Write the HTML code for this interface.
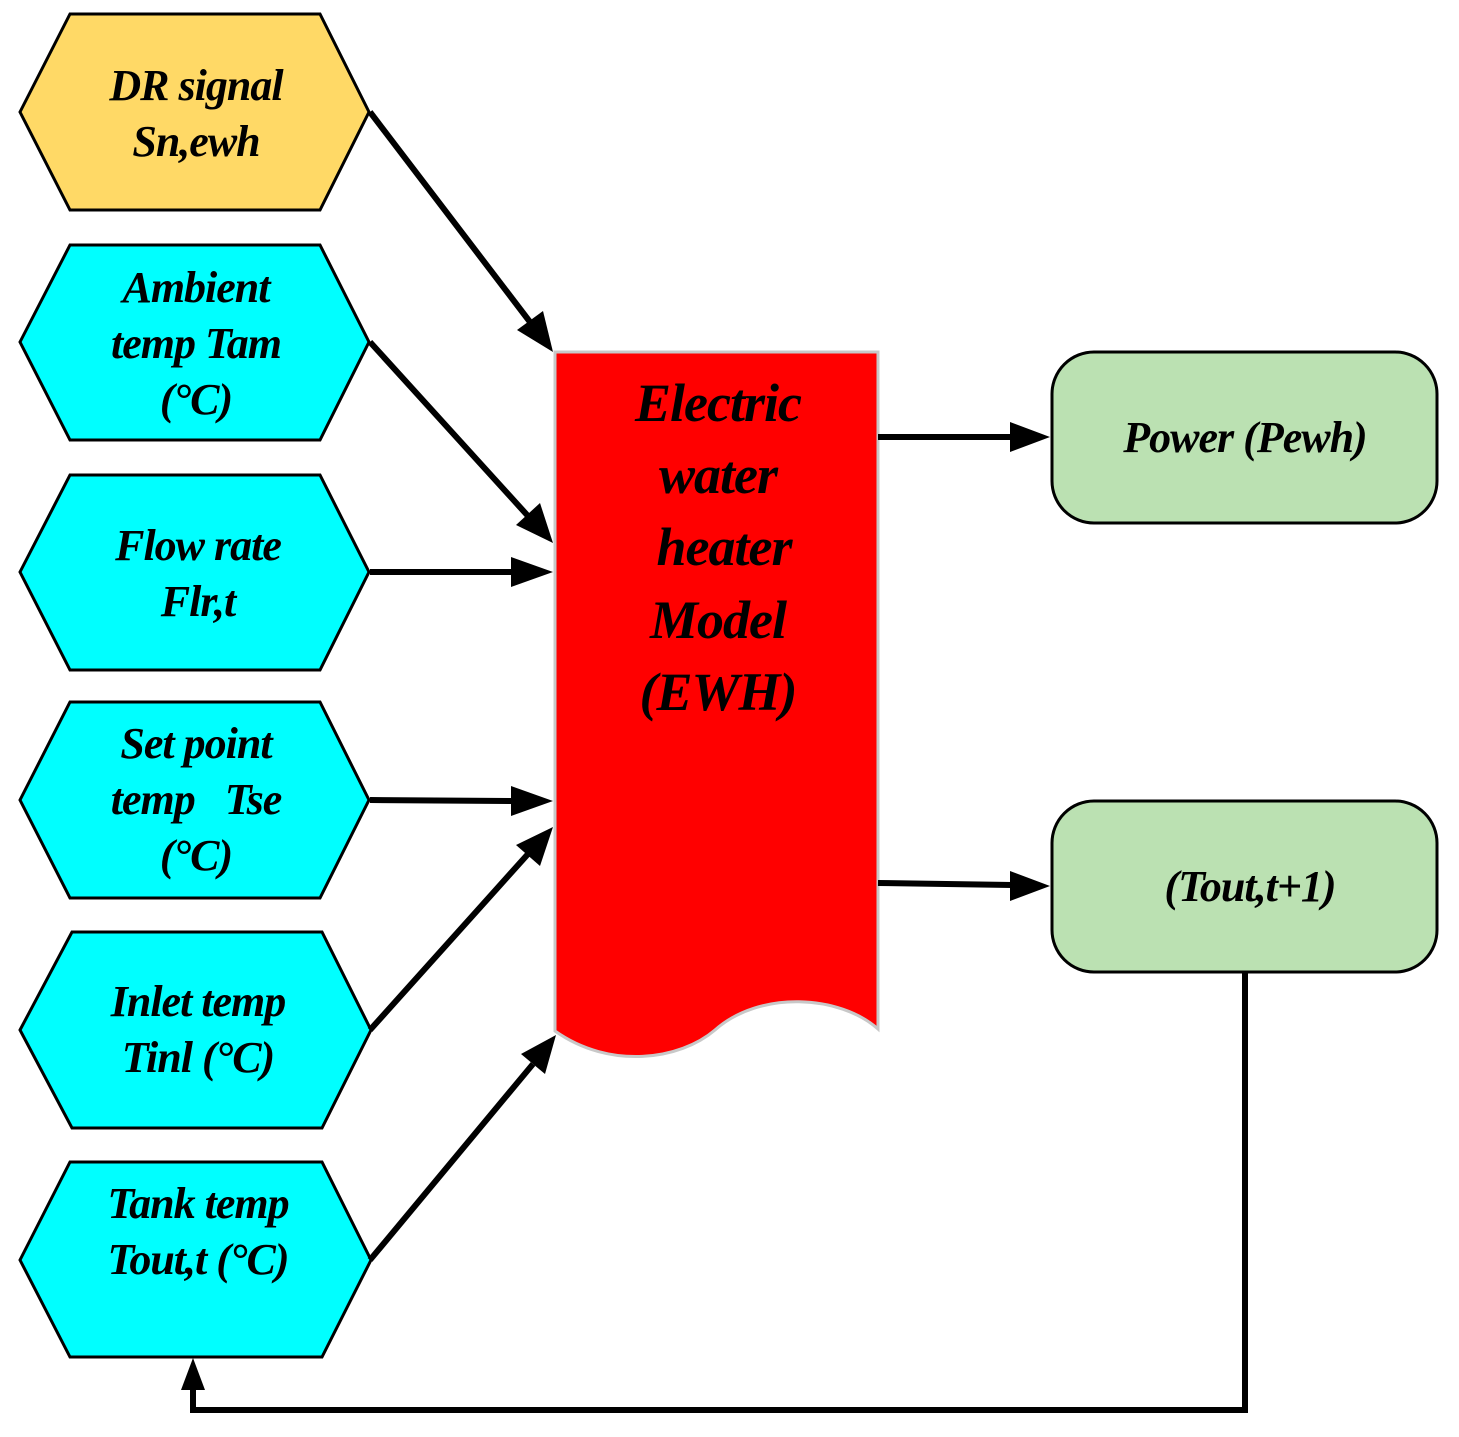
<!DOCTYPE html>
<html><head><meta charset="utf-8"><style>
html,body{margin:0;padding:0;background:#fff;}
svg text{font-family:"Liberation Serif",serif;font-weight:bold;font-style:italic;fill:#000;}
</style></head><body>
<svg width="1459" height="1432" viewBox="0 0 1459 1432" xmlns="http://www.w3.org/2000/svg">
<defs>
<marker id="a" markerWidth="12" markerHeight="10" refX="11" refY="5" orient="auto" markerUnits="userSpaceOnUse" viewBox="0 0 12 10">
</marker>
</defs>
<g stroke="#000" stroke-width="3">
<polygon points="20,112 70,14 320,14 369,112 320,210 70,210" fill="#ffd966"/>
<polygon points="20,342 70,245 320,245 369,342 320,440 70,440" fill="#00ffff"/>
<polygon points="20,572 70,475 320,475 369,572 320,670 70,670" fill="#00ffff"/>
<polygon points="20,800 70,702 320,702 369,800 320,898 70,898" fill="#00ffff"/>
<polygon points="20,1030 72,932 322,932 371,1030 322,1128 72,1128" fill="#00ffff"/>
<polygon points="20,1260 70,1162 322,1162 371,1260 322,1357 70,1357" fill="#00ffff"/>
<rect x="1052" y="352" width="385" height="171" rx="42" fill="#bbe1b2"/>
<rect x="1052" y="801" width="385" height="171" rx="42" fill="#bbe1b2"/>
</g>
<path d="M555,352 L878,352 L878,1029 C840,995 760,990 715,1030 C680,1060 610,1070 555,1031 Z" fill="#ff0000" stroke="#c8c8c8" stroke-width="3"/>
<g stroke="#000" stroke-width="6" fill="none">
<line x1="370" y1="112" x2="530" y2="322"/>
<line x1="370" y1="342" x2="528" y2="516"/>
<line x1="370" y1="572" x2="515" y2="572"/>
<line x1="370" y1="800" x2="515" y2="801"/>
<line x1="370" y1="1030" x2="528" y2="854"/>
<line x1="370" y1="1260" x2="533" y2="1064"/>
<line x1="878" y1="437" x2="1012" y2="437"/>
<line x1="878" y1="883" x2="1012" y2="885"/>
<polyline points="1245,972 1245,1410 193,1410 193,1385"/>
</g>
<g fill="#000">
<polygon points="553,352 517,330 543,311"/>
<polygon points="553,543 516,525 540,503"/>
<polygon points="553,572 511,557 511,587"/>
<polygon points="553,801 511,786 511,816"/>
<polygon points="553,827 540,866 516,845"/>
<polygon points="556,1035 545,1074 521,1054"/>
<polygon points="1050,437 1010,422 1010,452"/>
<polygon points="1050,886 1010,871 1010,901"/>
<polygon points="193,1358 181,1390 205,1390"/>
</g>
<g font-size="44" text-anchor="middle" letter-spacing="-1">
<text x="196" y="100">DR signal</text>
<text x="196" y="156">Sn,ewh</text>
<text x="196" y="302">Ambient</text>
<text x="196" y="358">temp Tam</text>
<text x="196" y="414">(°C)</text>
<text x="198" y="560">Flow rate</text>
<text x="198" y="616">Flr,t</text>
<text x="196" y="758">Set point</text>
<text x="196" y="814" xml:space="preserve">temp   Tse</text>
<text x="196" y="870">(°C)</text>
<text x="198" y="1016">Inlet temp</text>
<text x="198" y="1072">Tinl (°C)</text>
<text x="198" y="1218">Tank temp</text>
<text x="198" y="1274">Tout,t (°C)</text>
<text x="1245" y="452">Power (Pewh)</text>
<text x="1250" y="901">(Tout,t+1)</text>
</g>
<g font-size="54" text-anchor="middle" letter-spacing="-1">
<text x="718" y="421">Electric</text>
<text x="718" y="493">water</text>
<text x="724" y="565">heater</text>
<text x="718" y="638">Model</text>
<text x="718" y="710">(EWH)</text>
</g>
</svg>
</body></html>
